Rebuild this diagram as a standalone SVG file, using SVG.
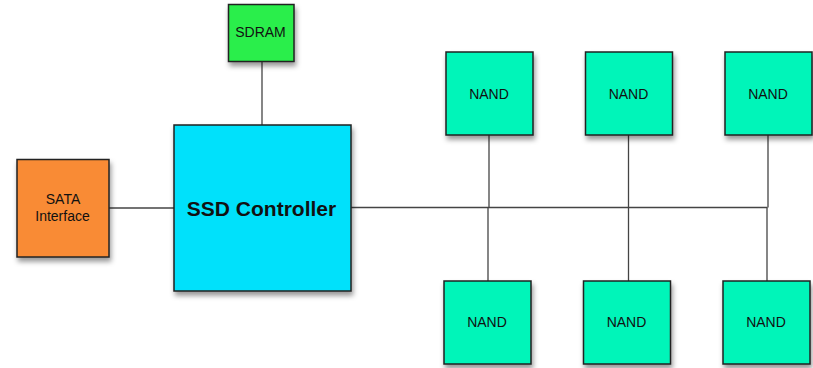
<svg xmlns="http://www.w3.org/2000/svg" width="813" height="368" viewBox="0 0 813 368">
<style>
.box{stroke:#222;stroke-width:1.5;filter:url(#sh)}
.lbl{font-family:"Liberation Sans",Arial,sans-serif;font-size:14px;fill:#111;text-anchor:middle}
.big{font-family:"Liberation Sans",Arial,sans-serif;font-size:21px;font-weight:bold;fill:#111;text-anchor:middle}
.nand{fill:#00f5b9}
.conn line{stroke:#444;stroke-width:1.3}
</style>
<defs>
<filter id="sh" x="-20%" y="-20%" width="150%" height="150%">
<feDropShadow dx="1.5" dy="4" stdDeviation="2.5" flood-color="#000" flood-opacity="0.4"/>
</filter>
</defs>
<rect width="813" height="368" fill="#fff"/>
<g class="conn" id="connectors">
<line x1="262" y1="61" x2="262" y2="125"/>
<line x1="109" y1="208" x2="174" y2="208"/>
<line x1="351" y1="207.5" x2="767.5" y2="207.5"/>
<line x1="489" y1="135" x2="489" y2="207.5"/>
<line x1="488" y1="207.5" x2="488" y2="281"/>
<line x1="628.5" y1="135" x2="628.5" y2="281"/>
<line x1="768" y1="135" x2="768" y2="207.5"/>
<line x1="767" y1="207.5" x2="767" y2="281"/>
</g>
<g id="sdram"><rect class="box" x="228.5" y="4.5" width="65.5" height="57" fill="#2bee4c"/><text class="lbl" x="260.5" y="37">SDRAM</text></g>
<g id="sata"><rect class="box" x="17" y="159.5" width="92" height="97.5" fill="#f98b34"/><text class="lbl" x="63" y="204">SATA</text><text class="lbl" x="62.5" y="220.5">Interface</text></g>
<g id="controller"><rect class="box" x="174" y="125" width="177" height="166" fill="#00e1fb"/><text class="big" x="261.5" y="216">SSD Controller</text></g>
<g id="nand1"><rect class="box nand" x="446" y="52" width="87" height="83"/><text class="lbl" x="489" y="98.5">NAND</text></g>
<g id="nand2"><rect class="box nand" x="585.5" y="52" width="87" height="83"/><text class="lbl" x="628.5" y="98.5">NAND</text></g>
<g id="nand3"><rect class="box nand" x="725" y="52" width="87" height="83"/><text class="lbl" x="768" y="98.5">NAND</text></g>
<g id="nand4"><rect class="box nand" x="444" y="281" width="87" height="83"/><text class="lbl" x="487" y="327">NAND</text></g>
<g id="nand5"><rect class="box nand" x="583.5" y="281" width="87" height="83"/><text class="lbl" x="626.5" y="327">NAND</text></g>
<g id="nand6"><rect class="box nand" x="723" y="281" width="87" height="83"/><text class="lbl" x="766" y="327">NAND</text></g>
</svg>
